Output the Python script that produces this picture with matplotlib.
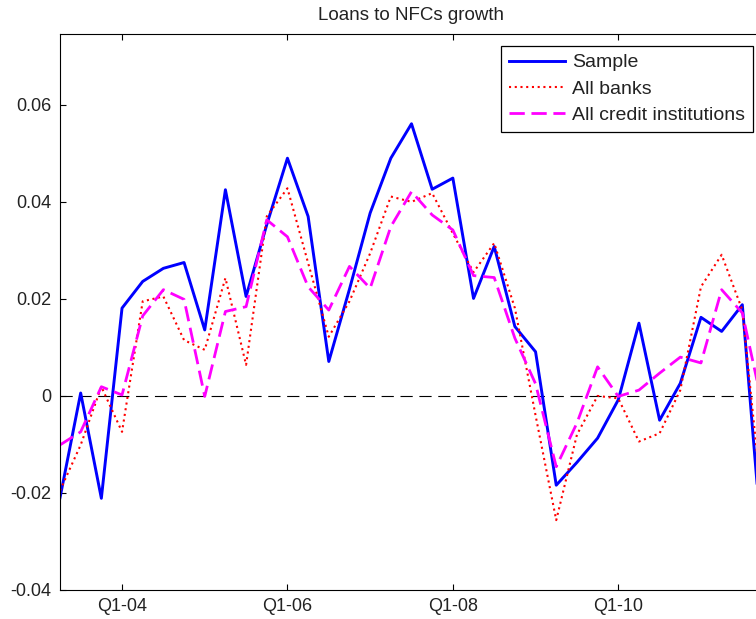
import numpy as np
import matplotlib
matplotlib.use('Agg')
import matplotlib.pyplot as plt

plt.rcParams['font.family'] = ['Liberation Sans', 'DejaVu Sans']

# quarter index, 0 = Q1-04 (first point Q2-03, last Q4-11)
quarters = np.arange(-3, 32)

sample = [-0.021, 0.0006, -0.0211, 0.0181, 0.0236, 0.0263, 0.0275, 0.0136,
          0.0425, 0.0205, 0.0353, 0.049, 0.037, 0.0071, 0.022, 0.0377,
          0.049, 0.0561, 0.0426, 0.0449, 0.0201, 0.0308, 0.0143, 0.0091,
          -0.0184, -0.0137, -0.0087, -0.0008, 0.015, -0.005, 0.0026, 0.0162,
          0.0133, 0.0188, -0.033]
all_banks = [-0.0195, -0.0101, 0.0019, -0.0074, 0.0195, 0.0205, 0.0115, 0.0095,
             0.0243, 0.0064, 0.037, 0.0428, 0.0274, 0.0122, 0.0195, 0.0294,
             0.0411, 0.040, 0.0418, 0.0335, 0.0255, 0.0315, 0.0181, -0.004,
             -0.0256, -0.008, 0.0, -0.0005, -0.0094, -0.0077, 0.0012, 0.0225,
             0.0291, 0.0177, -0.024]
all_credit = [-0.0101, -0.0074, 0.0019, 0.0002, 0.0165, 0.0219, 0.0199, -0.0001,
              0.0174, 0.0184, 0.0363, 0.0328, 0.0225, 0.0177, 0.0267, 0.0222,
              0.0349, 0.0421, 0.0373, 0.0342, 0.0248, 0.0244, 0.0119, 0.0025,
              -0.0146, -0.0056, 0.006, -0.0001, 0.0012, 0.0047, 0.008, 0.0068,
              0.0219, 0.0171, -0.0025]

xtick_pos = [0, 8, 16, 24]
xtick_labels = ['Q1-04', 'Q1-06', 'Q1-08', 'Q1-10']
ytick_pos = [-0.04, -0.02, 0, 0.02, 0.04, 0.06]
ytick_labels = ['-0.04', '-0.02', '0', '0.02', '0.04', '0.06']

fig = plt.figure(figsize=(7.56, 6.19), dpi=100)
# axes runs past the right edge of the picture, like the cropped original
ax = fig.add_axes([60/756, 1 - 590/619, 703/756, 556/619])

ax.axhline(0, color='k', lw=0.8, dashes=(11, 6))
ax.plot(quarters, sample, color='#0000ff', lw=2.1, label='Sample')
ax.plot(quarters, all_banks, color='#ff0000', lw=1.5, dashes=(1, 1.75),
        label='All banks')
ax.plot(quarters, all_credit, color='#ff00ff', lw=2.0, dashes=(5.5, 2.4),
        label='All credit institutions')

ax.set_xlim(-3, 31)
ax.set_ylim(-0.04, 0.0746)
ax.set_xticks(xtick_pos)
ax.set_xticklabels(xtick_labels)
ax.set_yticks(ytick_pos)
ax.set_yticklabels(ytick_labels)
ax.tick_params(direction='in', length=4, width=0.8, top=True, right=True,
               labelsize=13, pad=6, colors='k', labelcolor='#222222')
for s in ax.spines.values():
    s.set_linewidth(0.8)

ax.set_title('Loans to NFCs growth', fontsize=13.5, pad=10, color='#222222')

leg = ax.legend(loc='upper right', bbox_to_anchor=(753/756, 1 - 46/619),
                bbox_transform=fig.transFigure, fontsize=14, frameon=True,
                fancybox=False, edgecolor='k', framealpha=1, handlelength=2.9,
                handletextpad=0.35, labelspacing=0.45, borderpad=0.4,
                borderaxespad=0)
leg.get_frame().set_linewidth(0.9)
for t in leg.get_texts():
    t.set_color('#222222')

fig.savefig('out.png', dpi=100)
